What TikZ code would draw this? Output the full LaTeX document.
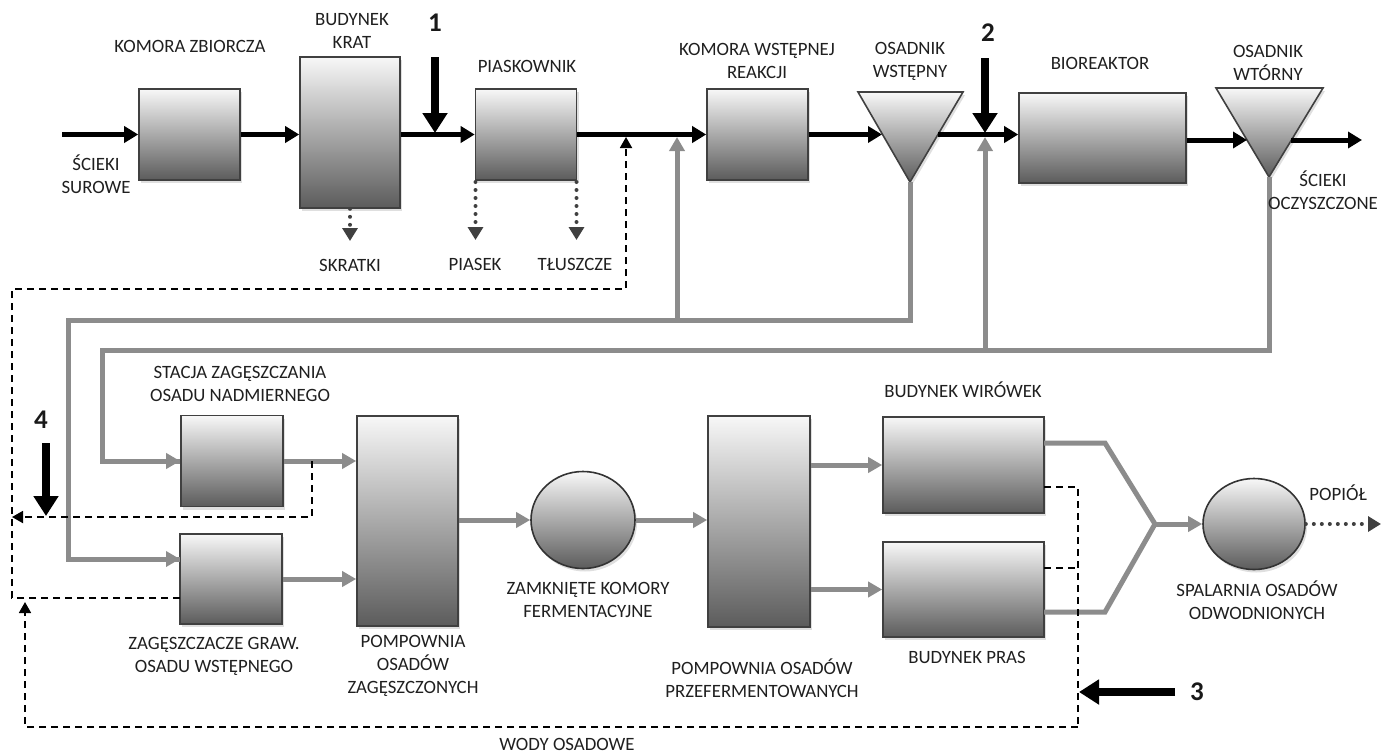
\documentclass[tikz,border=0pt]{standalone}
\usepackage{fontspec}
\setmainfont{Carlito}
\usetikzlibrary{arrows.meta,shadows,shapes.geometric}
\begin{document}
\begin{tikzpicture}[x=1pt,y=-1pt,
  box/.style={draw=black!75, line width=1.6pt, top color=black!3, bottom color=black!64,
    drop shadow={shadow xshift=2pt, shadow yshift=-3pt, opacity=0.25}, inner sep=0pt},
  tri/.style={draw=black!75, line width=1.6pt, top color=black!3, bottom color=black!64,
    drop shadow={shadow xshift=2pt, shadow yshift=-3pt, opacity=0.25}},
  circ/.style={ellipse, draw=black!80, line width=1.6pt, top color=black!3, bottom color=black!64,
    drop shadow={shadow xshift=2pt, shadow yshift=-3pt, opacity=0.25}, inner sep=0pt},
  lbl/.style={font=\fontsize{18.8}{23}\selectfont, text=black!88, align=center, inner sep=0pt},
  num/.style={font=\fontsize{27}{28}\selectfont\bfseries, text=black!90, inner sep=0pt},
  mainln/.style={draw=black, line width=5pt, -{Triangle[length=14pt,width=16pt]}},
  gr/.style={draw=black!45, line width=5pt},
  grtip/.style={-{Triangle[length=14pt,width=15pt]}},
  dsh/.style={draw=black, line width=1.8pt, dash pattern=on 7pt off 5pt},
  dshtip/.style={-{Triangle[length=11pt,width=12pt]}},
  dotln/.style={draw=black!75, line width=4pt, line cap=round, dash pattern=on 0pt off 8pt,
    -{Triangle[length=13pt,width=15pt]}},
  bigarr/.style={draw=black, line width=8pt, -{Triangle[length=20pt,width=24pt]}}
]
\useasboundingbox (0,0) rectangle (1381,753);

% ---------- top row boxes ----------
\node[box, minimum width=101pt, minimum height=91pt] (kz) at (189.5,134.5) {};
\node[box, minimum width=100pt, minimum height=151pt] (bk) at (350,132.5) {};
\node[box, minimum width=101pt, minimum height=91pt] (pk) at (526,134.5) {};
\node[box, minimum width=101pt, minimum height=91pt] (kwr) at (757.5,134.5) {};
\node[box, minimum width=167pt, minimum height=90pt] (bio) at (1102.5,138) {};

% triangles (settlers)
\coordinate (owa) at (858,92); \coordinate (owb) at (963,92); \coordinate (owA) at (910,182);
\path[tri] (owa) -- (owb) -- (owA) -- cycle;
\coordinate (owL) at (882,134.5); \coordinate (owR) at (938,134.5);
\coordinate (wta) at (1216,88); \coordinate (wtb) at (1323,88); \coordinate (wtA) at (1269,177);
\path[tri] (wta) -- (wtb) -- (wtA) -- cycle;
\coordinate (wtL) at (1247,140); \coordinate (wtR) at (1291,140);

% ---------- bottom row ----------
\node[box, minimum width=102pt, minimum height=91pt] (sz) at (232,461) {};
\node[box, minimum width=102pt, minimum height=90pt] (zg) at (231,579) {};
\node[box, minimum width=101pt, minimum height=210pt] (pz) at (407.5,521) {};
\node[circ, minimum width=104pt, minimum height=97pt] (kf) at (583,520) {};
\node[box, minimum width=102pt, minimum height=211pt] (pp) at (759,521.5) {};
\node[box, minimum width=161pt, minimum height=96pt] (wir) at (963.5,465) {};
\node[box, minimum width=161pt, minimum height=95pt] (pras) at (963.5,589.5) {};
\node[circ, minimum width=102pt, minimum height=91pt] (sp) at (1254,524) {};

% ---------- coordinates ----------
\coordinate (in) at (62,134.5);
\coordinate (out) at (1362,140);
\coordinate (a1s) at (435,57);   \coordinate (a1e) at (435,133);
\coordinate (a2s) at (985,58);   \coordinate (a2e) at (985,133);
\coordinate (skr) at (350,241);
\coordinate (pia) at (475.5,240); \coordinate (tlu) at (576.5,240);
\coordinate (pia0) at (475.5,182); \coordinate (tlu0) at (576.5,182);
\coordinate (r1) at (68,320);  \coordinate (zgin) at (180,559);
\coordinate (b1) at (677,320); \coordinate (kin) at (677,137);
\coordinate (r2) at (102,350);
\coordinate (b2) at (985,350); \coordinate (bin) at (985,137);
\coordinate (merge) at (1155,524);
\coordinate (wo1) at (1044,443); \coordinate (wk1) at (1105,443);
\coordinate (po1) at (1044,612); \coordinate (pk1) at (1105,612);
\coordinate (ash) at (1381,524);
% dashed
\coordinate (zgd) at (180,598); \coordinate (c1) at (12,598); \coordinate (c2) at (12,289);
\coordinate (c3) at (626,289); \coordinate (jin) at (626,137);
\coordinate (s1) at (312,461); \coordinate (s2) at (312,517); \coordinate (s3) at (12,517);
\coordinate (wd) at (1044,487); \coordinate (pd) at (1044,568);
\coordinate (e1) at (1078,487); \coordinate (e2) at (1078,727);
\coordinate (e3) at (25,727); \coordinate (e4) at (25,602);
\coordinate (a3s) at (1175,692); \coordinate (a3e) at (1079,692);
\coordinate (a4s) at (46,443); \coordinate (a4e) at (46,516);

% ---------- gray sludge lines ----------
\draw[gr] (owA) |- (r1) |- (zgin);
\draw[gr, grtip] (r1 |- zgin) -- (zgin);
\draw[gr, grtip] (b1) -- (kin);
\draw[gr] (wtA) |- (r2) |- (sz.west);
\draw[gr, grtip] (r2 |- sz.west) -- (sz.west);
\draw[gr, grtip] (b2) -- (bin);
\draw[gr, grtip] (sz.east) -- (pz.west |- sz.east);
\draw[gr, grtip] (zg.east) -- (pz.west |- zg.east);
\draw[gr, grtip] (pz.east |- kf.west) -- (kf.west);
\draw[gr, grtip] (kf.east) -- (pp.west |- kf.east);
\draw[gr, grtip] (pp.east |- wir.west) -- (wir.west);
\draw[gr, grtip] (pp.east |- pras.west) -- (pras.west);
\draw[gr] (wo1) -- (wk1) -- (merge) -- (pk1) -- (po1);
\draw[gr, grtip] (merge) -- (sp.west);

% ---------- main black line ----------
\draw[mainln] (in) -- (kz.west);
\draw[mainln] (kz.east) -- (bk.west |- kz.east);
\draw[mainln] (bk.east |- kz.east) -- (pk.west);
\draw[mainln] (pk.east) -- (kwr.west);
\draw[mainln] (kwr.east) -- (owL);
\draw[mainln] (owR) -- (bio.west |- owR);
\draw[mainln] (bio.east |- wtL) -- (wtL);
\draw[mainln] (wtR) -- (out);

\draw[bigarr] (a1s) -- (a1e);
\draw[bigarr] (a2s) -- (a2e);

% dotted outputs
\draw[dotln] (bk.south) -- (skr);
\draw[dotln] (pia0) -- (pia);
\draw[dotln] (tlu0) -- (tlu);
\draw[dotln] (sp.east) -- (ash);

% ---------- dashed returns ----------
\draw[dsh, dshtip] (zgd) -- (c1) -- (c2) -- (c3) -- (jin);
\draw[dsh, dshtip] (s1) -- (s2) -- (s3);
\draw[dsh] (wd) -- (e1) -- (e2);
\draw[dsh] (pd) -- (e1 |- pd);
\draw[dsh, dshtip] (e2) -- (e3) -- (e4);

\draw[bigarr] (a3s) -- (a3e);
\draw[bigarr] (a4s) -- (a4e);

% ---------- labels ----------
\node[lbl] (t1) at (190,46) {KOMORA ZBIORCZA};
\node[lbl] (t2) at (96,174) {ŚCIEKI\\SUROWE};
\node[lbl] (t3) at (352,31) {BUDYNEK\\KRAT};
\node[num] (n1) at (435,23) {1};
\node[lbl] (t4) at (350,265) {SKRATKI};
\node[lbl] (t5) at (527,66) {PIASKOWNIK};
\node[lbl] (t6) at (475,264) {PIASEK};
\node[lbl] (t7) at (575,264) {TŁUSZCZE};
\node[lbl] (t8) at (757,61) {KOMORA WSTĘPNEJ\\REAKCJI};
\node[lbl] (t9) at (910,61) {OSADNIK\\WSTĘPNY};
\node[num] (n2) at (988,33) {2};
\node[lbl] (t10) at (1100,63) {BIOREAKTOR};
\node[lbl] (t11) at (1268,63) {OSADNIK\\WTÓRNY};
\node[lbl] (t12) at (1323,190) {ŚCIEKI\\OCZYSZCZONE};
\node[lbl] (t13) at (240,384) {STACJA ZAGĘSZCZANIA\\OSADU NADMIERNEGO};
\node[num] (n4) at (41,420) {4};
\node[lbl] (t14) at (214,656) {ZAGĘSZCZACZE GRAW.\\OSADU WSTĘPNEGO};
\node[lbl] (t15) at (413,666) {POMPOWNIA\\OSADÓW\\ZAGĘSZCZONYCH};
\node[lbl] (t16) at (588,600) {ZAMKNIĘTE KOMORY\\FERMENTACYJNE};
\node[lbl] (t17) at (762,678) {POMPOWNIA OSADÓW\\PRZEFERMENTOWANYCH};
\node[lbl] (t18) at (963,390) {BUDYNEK WIRÓWEK};
\node[lbl] (t19) at (967,657) {BUDYNEK PRAS};
\node[lbl] (t20) at (1257,600) {SPALARNIA OSADÓW\\ODWODNIONYCH};
\node[lbl] (t21) at (1338,493) {POPIÓŁ};
\node[num] (n3) at (1197,692) {3};
\node[lbl] (t22) at (567,744) {WODY OSADOWE};
\end{tikzpicture}
\end{document}
